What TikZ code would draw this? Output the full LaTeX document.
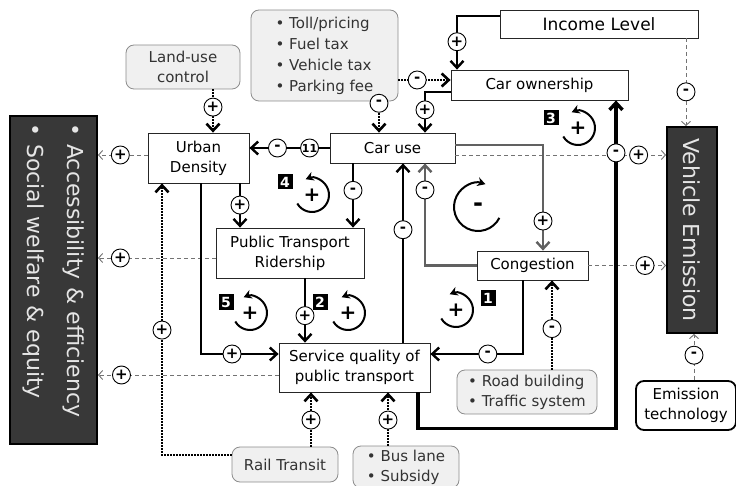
\documentclass[tikz,border=0pt]{standalone}
\usepackage{fontspec}
\setmainfont{DejaVu Sans}
\usetikzlibrary{arrows.meta}
\begin{document}
\begin{tikzpicture}[x=1pt,y=-1pt,
  box/.style={draw=black!85, line width=0.8pt, fill=white, inner sep=2pt, align=center, font=\fontsize{15}{20}\selectfont},
  pol/.style={draw=black!45, line width=0.8pt, fill=black!6, rounded corners=8pt, text=black!80, inner sep=2pt, font=\fontsize{15}{20}\selectfont},
  dark/.style={draw=black, line width=2pt, fill=black!78, text=black!10, rotate=-90, inner sep=4pt},
  sgn/.style={circle, draw=black, solid, line width=0.9pt, fill=white, text=black, inner sep=0pt, minimum size=18pt, font=\bfseries\fontsize{15}{15}\selectfont},
  lnk/.style={line width=2.4pt, -{Straight Barb[length=7pt,width=13pt]}},
  glnk/.style={lnk, draw=black!62},
  dotl/.style={line width=2.6pt, dash pattern=on 1.6pt off 1.4pt, -{Straight Barb[length=7pt,width=13pt]}},
  dsh/.style={draw=black!55, line width=0.9pt, dash pattern=on 4pt off 3pt, -{Straight Barb[length=4pt,width=9pt]}},
  num/.style={fill=black, text=white, inner sep=1pt, minimum size=15pt, font=\bfseries\fontsize{14}{14}\selectfont},
  lp/.style={inner sep=0pt, font=\bfseries\fontsize{20}{20}\selectfont},
  larc/.style={line width=2pt, -{Stealth[length=8pt,width=9pt]}}
]
  \useasboundingbox (0,0) rectangle (736,486);

  \node[dark, minimum width=328pt, minimum height=87pt, text width=312pt, align=left, font=\fontsize{22}{40}\selectfont] (acc) at (53.5,280) {• Accessibility \& efficiency\\• Social welfare \& equity};
  \node[dark, minimum width=206pt, minimum height=50pt, font=\fontsize{22}{26}\selectfont] (vem) at (692,230) {Vehicle Emission};

  \node[box, minimum width=198pt, minimum height=28pt, font=\fontsize{17}{20}\selectfont] (inc) at (599,24) {Income Level};
  \node[box, minimum width=177pt, minimum height=30pt] (cown) at (539.5,85) {Car ownership};
  \node[box, minimum width=101pt, minimum height=50pt] (ud) at (198.5,158) {Urban\\Density};
  \node[box, minimum width=125pt, minimum height=30pt] (cu) at (392.5,148) {Car use};
  \node[box, minimum width=148pt, minimum height=50pt] (ptr) at (290,253) {Public Transport\\Ridership};
  \node[box, minimum width=111pt, minimum height=29pt] (cong) at (532.5,265.5) {Congestion};
  \node[box, minimum width=151pt, minimum height=49pt] (sq) at (354.5,367.5) {Service quality of\\public transport};

  \node[pol, minimum width=114pt, minimum height=44pt, align=center] (luc) at (183,67) {Land-use\\control};
  \node[pol, minimum width=147pt, minimum height=91pt, align=left, font=\fontsize{15}{21}\selectfont] (toll) at (324.5,55.5) {• Toll/pricing\\• Fuel tax\\• Vehicle tax\\• Parking fee};
  \node[pol, minimum width=140pt, minimum height=44pt, align=left] (road) at (527,392) {• Road building\\• Traffic system};
  \node[pol, minimum width=106pt, minimum height=35pt] (rail) at (285,464.5) {Rail Transit};
  \node[pol, minimum width=106pt, minimum height=42pt, align=left] (bus) at (406,467) {• Bus lane\\• Subsidy};
  \node[box, draw=black, line width=1.8pt, rounded corners=8pt, minimum width=100pt, minimum height=49pt] (emt) at (686,405.5) {Emission\\technology};

  \draw[dsh] (cu.east |- 0,155) -- (vem.south |- 0,155) node[sgn, pos=0.87] (s19) {+};
  \draw[dsh] (cong.east) -- (cong.east -| vem.south) node[sgn, pos=0.73] (s20) {+};
  \draw[dsh] (inc.south -| 686,0) -- (vem.west -| 686,0) node[sgn, pos=0.61] (s21) {-};
  \draw[dsh] (emt.north -| 694,0) -- (vem.east -| 694,0) node[sgn, pos=0.54] (s22) {-};
  \draw[dsh] ([yshift=3pt]ud.west) -- (acc.north |- 0,155) node[sgn, pos=0.55] (s2) {+};
  \draw[dsh] (ptr.west |- 0,258) -- (acc.north |- 0,258) node[sgn, pos=0.81] (s23) {+};
  \draw[dsh] (sq.west |- 0,375) -- (acc.north |- 0,375) node[sgn, pos=0.87] (s24) {+};

  \draw[dotl] ([xshift=30pt]luc.south) -- ([xshift=14.5pt]ud.north) node[sgn, pos=0.41] (s1) {+};
  \draw[dotl] (toll.east |- 0,80) -- (cown.west |- 0,80) node[sgn, pos=0.36] (s5) {-};
  \draw[dotl] (toll.south -| 379,0) -- (cu.north -| 379,0) node[sgn, pos=0.06] (s6) {-};
  \draw[dotl] (road.north -| 552,0) -- (cong.south -| 552,0) node[sgn, pos=0.46] (s17) {-};
  \draw[dotl] (rail.west |- 0,455) -| (ud.south -| 162,0) node[sgn, pos=0.73] (s25) {+};
  \draw[dotl] (rail.north -| 311,0) -- (sq.south -| 311,0) node[sgn, pos=0.49] (s26) {+};
  \draw[dotl] (bus.north -| 388,0) -- (sq.south -| 388,0) node[sgn, pos=0.48] (s27) {+};

  \draw[lnk] (cu.west) -- (cu.west -| ud.east) node[sgn, pos=0.25, font=\bfseries\fontsize{11}{11}\selectfont] (s3) {11} node[sgn, pos=0.65] (s4) {-};
  \draw[lnk] (inc.west |- 0,16) -| (cown.north -| 457,0) node[sgn, pos=0.74] (s7) {+};
  \draw[lnk] (cown.west |- 0,92) -| (cu.north -| 425,0) node[sgn, pos=0.72] (s8) {+};
  \draw[lnk] (cu.south -| 353,0) -- (ptr.north -| 353,0) node[sgn, pos=0.42] (s9) {-};
  \draw[lnk] (ud.south -| 240,0) -- (ptr.north -| 240,0) node[sgn, pos=0.49] (s10) {+};
  \draw[lnk] (ud.south -| 201,0) |- (sq.west |- 0,354) node[sgn, pos=0.7] (s11) {+};
  \draw[lnk] (ptr.south -| 305,0) -- (sq.north -| 305,0) node[sgn, pos=0.58] (s12) {+};
  \draw[lnk] (sq.north -| 403,0) -- (cu.south -| 403,0) node[sgn, pos=0.63] (s13) {-};
  \draw[glnk] (cong.west) -| (cu.south -| 425,0) node[sgn, pos=0.87] (s14) {-};
  \draw[glnk] (cu.east |- 0,145) -| (cong.north -| 543,0) node[sgn, pos=0.86] (s15) {+};
  \draw[lnk] (cong.south -| 523,0) |- (sq.east |- 0,354) node[sgn, pos=0.69] (s16) {-};
  \draw[lnk, line width=3.4pt] (sq.south -| 418,0) -- ++(0,36) -| (cown.south -| 616,0) node[sgn, pos=0.92] (s18) {-};

  \node[lp] (l1) at (456,310) {+};
  \node[num] (n1) at (488,298) {1};
  \draw[larc] (l1) ++(-150:17pt) arc[start angle=-150, end angle=112, radius=17pt];
  \node[lp] (l2) at (348,313) {+};
  \node[num] (n2) at (320,302) {2};
  \draw[larc] (l2) ++(-150:17pt) arc[start angle=-150, end angle=112, radius=17pt];
  \node[lp] (l3) at (578,128) {+};
  \node[num] (n3) at (551,118) {3};
  \draw[larc] (l3) ++(-150:17pt) arc[start angle=-150, end angle=112, radius=17pt];
  \node[lp] (l4) at (312,195) {+};
  \node[num] (n4) at (285,182) {4};
  \draw[larc] (l4) ++(-150:17pt) arc[start angle=-150, end angle=112, radius=17pt];
  \node[lp] (l5) at (250,313) {+};
  \node[num] (n5) at (226,302) {5};
  \draw[larc] (l5) ++(-150:17pt) arc[start angle=-150, end angle=112, radius=17pt];
  \node[lp, font=\bfseries\fontsize{24}{24}\selectfont] (lm) at (478,207) {-};
  \draw[larc] (lm) ++(-27:24pt) arc[start angle=-27, end angle=-288, radius=24pt];
\end{tikzpicture}
\end{document}
